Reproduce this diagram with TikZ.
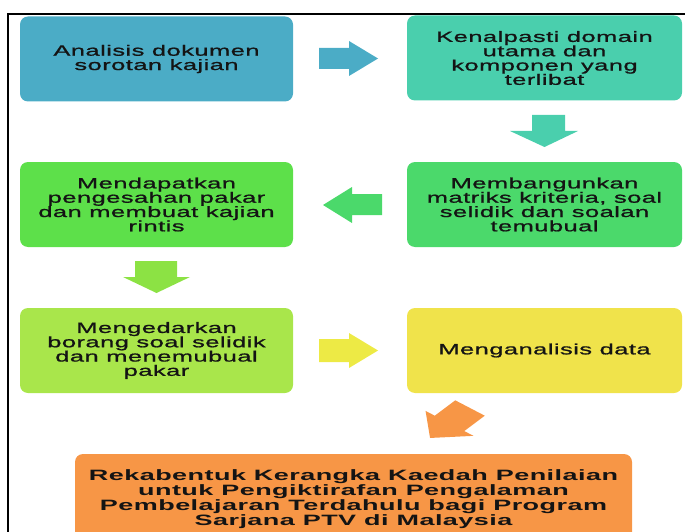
\documentclass[tikz,border=0pt]{standalone}
\usepackage{fontspec}
\newfontfamily\boxfont{Liberation Sans}[FakeStretch=1.7,LetterSpace=3,FakeBold=1]
\newfontfamily\titlefont{Liberation Sans Bold}[FakeStretch=1.8,LetterSpace=3]
\definecolor{cA}{HTML}{4BACC6}
\definecolor{cB}{HTML}{4ACFAD}
\definecolor{cC}{HTML}{4BD96B}
\definecolor{cD}{HTML}{5DE04A}
\definecolor{cE}{HTML}{A9E64B}
\definecolor{cF}{HTML}{F0E34B}
\definecolor{cG}{HTML}{F79646}
\definecolor{cDa}{HTML}{8CE244}
\definecolor{cFa}{HTML}{EDEA45}
\tikzset{
  stepbox/.style={rounded corners=8pt, inner sep=0pt, align=center,
    text=black!92, font=\boxfont\fontsize{15}{14.3}\selectfont},
  wideL/.style={stepbox, minimum width=273pt, minimum height=85pt},
  wideR/.style={stepbox, minimum width=275pt, minimum height=85pt}
}
\begin{document}
\begin{tikzpicture}[x=1pt,y=-1pt]
\useasboundingbox (0,0) rectangle (685,532);
\clip (0,0) rectangle (685,532);
% frame
\draw[line width=2pt] (685,14) -- (8,14) -- (8,533);
% boxes
\node[wideL, fill=cA] (b1) at (156.5,59) {Analisis dokumen\\sorotan kajian};
\node[wideR, fill=cB] (b2) at (544.5,58) {Kenalpasti domain\\utama dan\\komponen yang\\terlibat};
\node[wideR, fill=cC] (b3) at (544.5,204.5) {Membangunkan\\matriks kriteria, soal\\selidik dan soalan\\temubual};
\node[wideL, fill=cD] (b4) at (156.5,204.5) {Mendapatkan\\pengesahan pakar\\dan membuat kajian\\rintis};
\node[wideL, fill=cE] (b5) at (156.5,350.5) {Mengedarkan\\borang soal selidik\\dan menemubual\\pakar};
\node[wideR, fill=cF] (b6) at (544.5,350.5) {Menganalisis data};
\node[stepbox, fill=cG, minimum width=557pt, minimum height=90pt,
  font=\titlefont\fontsize{15}{15}\selectfont] (b7) at (353.5,499) {Rekabentuk Kerangka Kaedah Penilaian\\untuk Pengiktirafan Pengalaman\\Pembelajaran Terdahulu bagi Program\\Sarjana PTV di Malaysia};
% block arrows
\fill[cA] (319,48) -- (349,48) -- (349,41) -- (378,58.5) -- (349,76) -- (349,69) -- (319,69) -- cycle;
\fill[cB] (532,115) -- (565,115) -- (565,131) -- (578,131) -- (544.5,147) -- (510,131) -- (532,131) -- cycle;
\fill[cC] (382,194) -- (352,194) -- (352,187) -- (323,205) -- (352,223) -- (352,215) -- (382,215) -- cycle;
\fill[cDa] (135,261) -- (177,261) -- (177,277) -- (190,277) -- (156.5,293) -- (123,277) -- (135,277) -- cycle;
\fill[cFa] (319,339) -- (349,339) -- (349,333) -- (378,350.5) -- (349,368) -- (349,362) -- (319,362) -- cycle;
\begin{scope}[shift={(470,408)}, xscale=1.6, rotate=230.2]
\fill[cG] (0,-12) -- (20,-12) -- (20,-19.5) -- (39,0) -- (20,19.5) -- (20,12) -- (0,12) -- cycle;
\end{scope}
\end{tikzpicture}
\end{document}
